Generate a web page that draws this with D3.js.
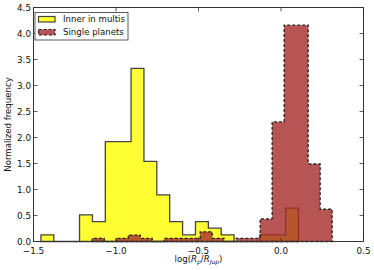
<!DOCTYPE html>
<html>
<head>
<meta charset="utf-8">
<script src="https://d3js.org/d3.v7.min.js"></script>
<style>
body { margin: 0; background: #fff; }
text { font-family: "DejaVu Sans", sans-serif; }
</style>
</head>
<body>
<svg id="chart"></svg>
<script>
// histogram of inner planets in multi-planet systems (yellow)
var multiRange = [-1.455, 0.106];
var multiHeights = [0.128, 0, 0, 0.512, 0.384, 1.92, 1.92, 3.33, 1.54, 0.896,
                    0.384, 0.128, 0.384, 0.256, 0.128, 0, 0, 0.128, 0.128, 0.64];

// histogram of single planets (brown, dashed)
var singleRange = [-1.144, 0.310];
var singleHeights = [0.062, 0, 0.062, 0.124, 0.062, 0, 0.062, 0.062, 0.062, 0.186,
                     0.062, 0, 0.062, 0.062, 0.434, 2.30, 4.16, 4.16, 1.49, 0.62];

var xTicks = [-1.5, -1.0, -0.5, 0.0, 0.5];
var yTicks = [0.0, 0.5, 1.0, 1.5, 2.0, 2.5, 3.0, 3.5, 4.0, 4.5];
var legendLabels = ["Inner in multis", "Single planets"];

var width = 374, height = 270;
var margin = {left: 33.5, right: 10.5, top: 7.5, bottom: 28.5};

var svg = d3.select("#chart").attr("width", width).attr("height", height);

var x = d3.scaleLinear().domain([-1.5, 0.5]).range([margin.left, width - margin.right]);
var y = d3.scaleLinear().domain([0, 4.5]).range([height - margin.bottom, margin.top]);

function stepPoints(range, heights) {
    var w = (range[1] - range[0]) / heights.length;
    var pts = [[x(range[0]), y(0)]];
    heights.forEach(function (h, i) {
        pts.push([x(range[0] + i * w), y(h)]);
        pts.push([x(range[0] + (i + 1) * w), y(h)]);
    });
    pts.push([x(range[1]), y(0)]);
    return pts;
}

var line = d3.line();

svg.append("path")
    .attr("d", line(stepPoints(multiRange, multiHeights)) + "Z")
    .attr("fill", "#ffff33")
    .attr("stroke", "#444")
    .attr("stroke-width", 1.3);

svg.append("path")
    .attr("d", line(stepPoints(singleRange, singleHeights)) + "Z")
    .attr("fill", "rgba(165,42,42,0.8)")
    .attr("stroke", "#222")
    .attr("stroke-width", 1.3)
    .attr("stroke-dasharray", "3,2");

// frame
var x0 = x.range()[0], x1 = x.range()[1], y0 = y.range()[0], y1 = y.range()[1];
svg.append("rect")
    .attr("x", x0).attr("y", y1)
    .attr("width", x1 - x0).attr("height", y0 - y1)
    .attr("fill", "none").attr("stroke", "#333").attr("stroke-width", 1);

// ticks, inward on all four sides
var tk = svg.append("g").attr("stroke", "#333").attr("stroke-width", 0.8);
xTicks.forEach(function (t) {
    tk.append("line").attr("x1", x(t)).attr("x2", x(t)).attr("y1", y0).attr("y2", y0 - 4);
    tk.append("line").attr("x1", x(t)).attr("x2", x(t)).attr("y1", y1).attr("y2", y1 + 4);
});
yTicks.forEach(function (t) {
    tk.append("line").attr("x1", x0).attr("x2", x0 + 4).attr("y1", y(t)).attr("y2", y(t));
    tk.append("line").attr("x1", x1).attr("x2", x1 - 4).attr("y1", y(t)).attr("y2", y(t));
});

var fmt = function (v) { return d3.format(".1f")(v).replace("-", "\u2212").replace("\u2212", "\u2212"); };

svg.selectAll(".xl").data(xTicks).enter().append("text")
    .attr("x", function (d) { return x(d); })
    .attr("y", y0 + 12)
    .attr("text-anchor", "middle")
    .attr("font-size", "8.8px")
    .attr("fill", "#111")
    .text(fmt);

svg.selectAll(".yl").data(yTicks).enter().append("text")
    .attr("x", x0 - 2.5)
    .attr("y", function (d) { return y(d) + 3.2; })
    .attr("text-anchor", "end")
    .attr("font-size", "8.8px")
    .attr("fill", "#111")
    .text(fmt);

svg.append("text")
    .attr("transform", "translate(10.5," + ((y0 + y1) / 2) + ")rotate(-90)")
    .attr("text-anchor", "middle")
    .attr("font-size", "8.6px")
    .attr("fill", "#111")
    .text("Normalized frequency");

// x label in math style
var xl = svg.append("text")
    .attr("x", (x0 + x1) / 2)
    .attr("y", 262)
    .attr("text-anchor", "middle")
    .attr("font-family", "DejaVu Serif, serif")
    .attr("font-size", "8.6px")
    .attr("fill", "#111");
xl.append("tspan").text("log(");
xl.append("tspan").attr("font-style", "italic").text("R");
xl.append("tspan").attr("font-style", "italic").attr("font-size", "6px").attr("dy", 2).text("p");
xl.append("tspan").attr("dy", -2).text("/");
xl.append("tspan").attr("font-style", "italic").text("R");
xl.append("tspan").attr("font-style", "italic").attr("font-size", "6px").attr("dy", 2).text("Jup");
xl.append("tspan").attr("dy", -2).text(")");

// legend
var lg = svg.append("g");
lg.append("rect").attr("x", 35).attr("y", 12.5).attr("width", 93).attr("height", 27.5)
    .attr("fill", "#fff").attr("stroke", "#333").attr("stroke-width", 0.8);
lg.append("rect").attr("x", 38.5).attr("y", 16.5).attr("width", 16.5).attr("height", 5.5)
    .attr("fill", "#ffff33").attr("stroke", "#444").attr("stroke-width", 1.2);
lg.append("rect").attr("x", 38.5).attr("y", 29.5).attr("width", 16.5).attr("height", 5.5)
    .attr("fill", "rgba(165,42,42,0.8)").attr("stroke", "#222").attr("stroke-width", 1.2)
    .attr("stroke-dasharray", "3,2");
lg.selectAll(".lt").data(legendLabels).enter().append("text")
    .attr("x", 63)
    .attr("y", function (d, i) { return 22.3 + i * 13; })
    .attr("font-size", "8.6px")
    .attr("fill", "#111")
    .text(function (d) { return d; });
</script>
</body>
</html>
